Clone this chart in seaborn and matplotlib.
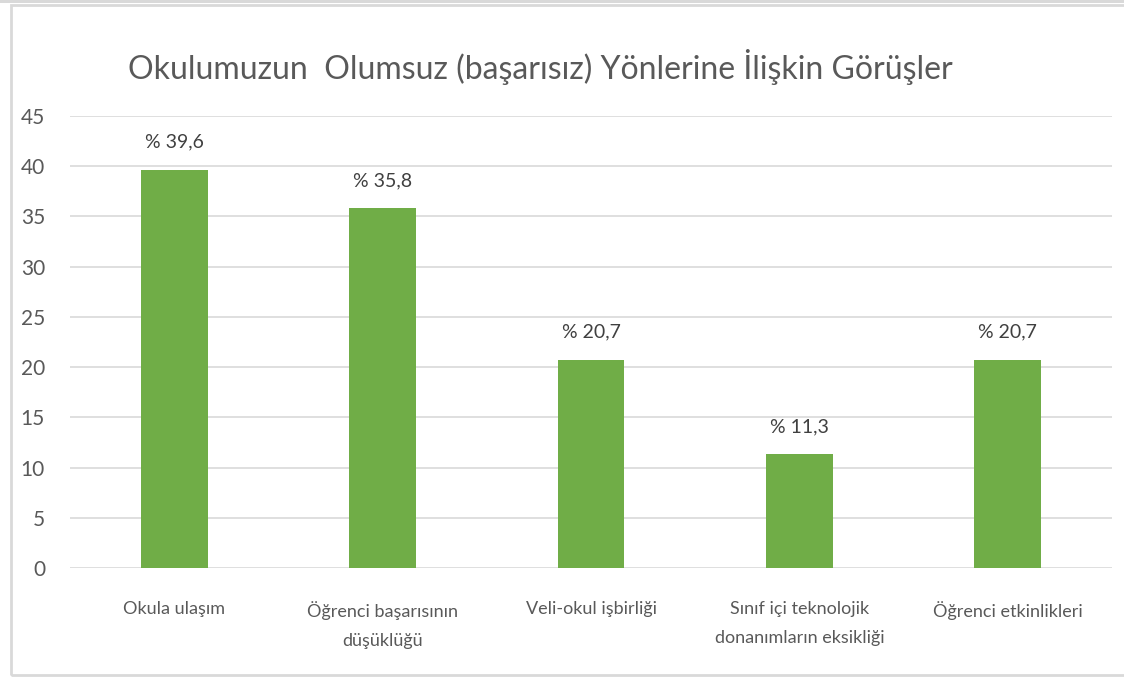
import matplotlib
matplotlib.use("Agg")
import matplotlib.pyplot as plt
import seaborn as sns
import pandas as pd
from matplotlib.patches import Rectangle

categories = ["Okula ulaşım", "Öğrenci başarısının\ndüşüklüğü", "Veli-okul işbirliği",
              "Sınıf içi teknolojik\ndonanımların eksikliği", "Öğrenci etkinlikleri"]
values = [39.6, 35.8, 20.7, 11.3, 20.7]
bar_labels = ["% 39,6", "% 35,8", "% 20,7", "% 11,3", "% 20,7"]
yticks = [0, 5, 10, 15, 20, 25, 30, 35, 40, 45]
title = "Okulumuzun  Olumsuz (başarısız) Yönlerine İlişkin Görüşler"

sns.set_theme(style="white")
plt.rcParams["font.family"] = ["Lato", "DejaVu Sans"]

df = pd.DataFrame({"cat": categories, "val": values})

fig = plt.figure(figsize=(11.24, 6.77), dpi=100)
ax = fig.add_axes([70/1124, 109/677, 1042/1124, 452/677])
sns.barplot(data=df, x="cat", y="val", color="#70AD47", width=0.32, ax=ax,
            saturation=1, edgecolor="none")

ax.set_ylim(0, 45)
ax.set_xlim(-0.5, 4.5)
ax.set_yticks(yticks)
ax.set_yticklabels([str(t) for t in yticks], fontsize=15, color="#595959")
ax.set_xticks(range(len(categories)))
ax.set_xticklabels(categories, fontsize=13, color="#595959", linespacing=1.95)
ax.tick_params(axis="y", length=0, pad=18)
ax.tick_params(axis="x", length=0, pad=24)
ax.set_xlabel("")
ax.set_ylabel("")
ax.yaxis.grid(True, color="#D9D9D9", linewidth=1.2)
ax.set_axisbelow(True)
for s in ax.spines.values():
    s.set_visible(False)

for i, (v, lab) in enumerate(zip(values, bar_labels)):
    ax.annotate(lab, (i, v), xytext=(0, 14), textcoords="offset points",
                ha="center", va="bottom", fontsize=14, color="#404040")

fig.text(540/1124, 1 - 67/677, title, ha="center", va="center", fontsize=23,
         color="#595959")

# chart border
fig.patches.append(Rectangle((11/1124, 2/677), 1.2, 0.99, transform=fig.transFigure,
                             fill=False, edgecolor="#D9D9D9", linewidth=2))
fig.patches.append(Rectangle((0, 1 - 3/677), 1, 3/677, transform=fig.transFigure,
                             facecolor="#D9D9D9", edgecolor="none"))

fig.savefig("out.png", dpi=100)
